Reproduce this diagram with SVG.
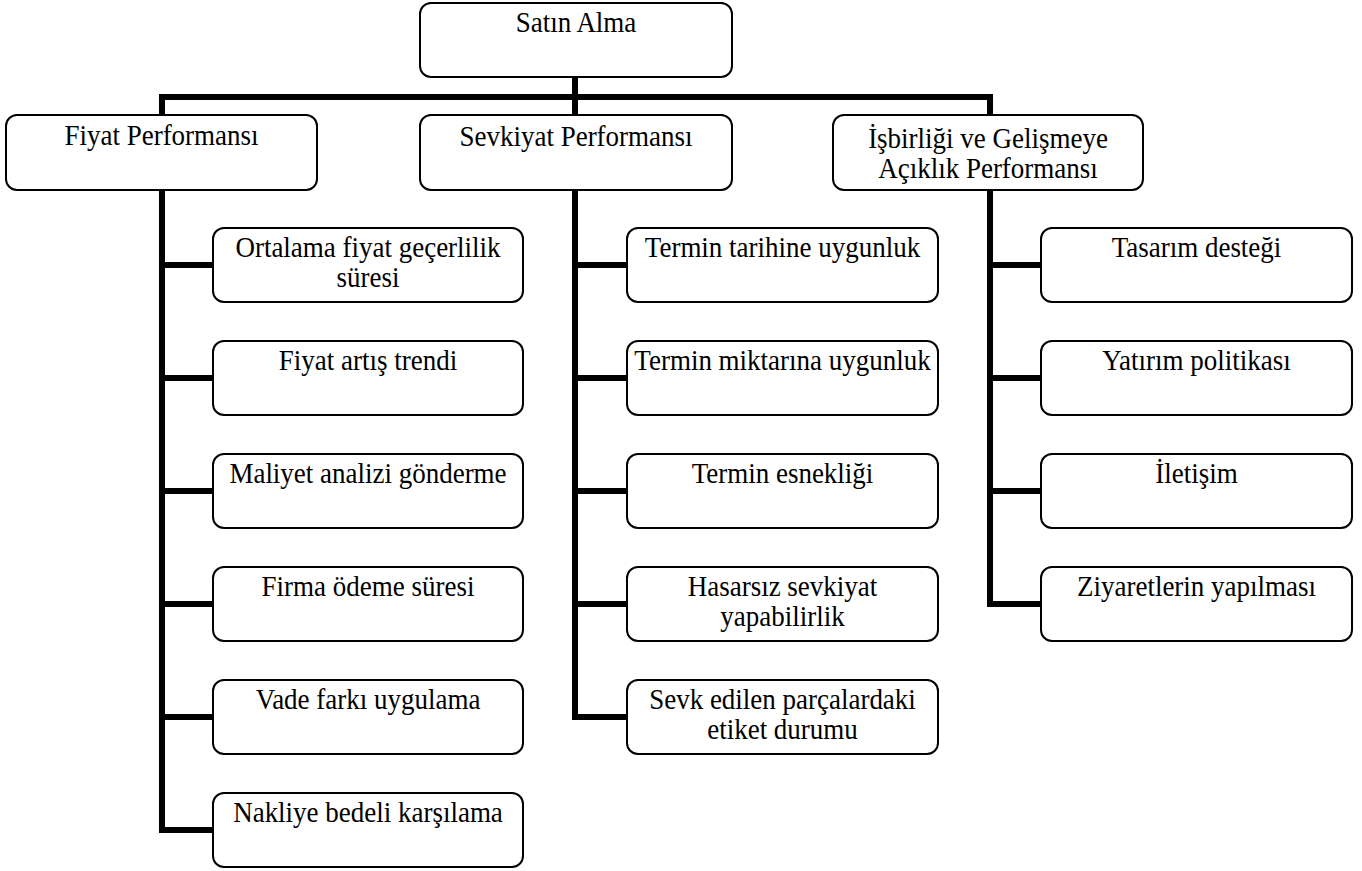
<svg xmlns="http://www.w3.org/2000/svg" width="1362" height="871" viewBox="0 0 1362 871">
  <style>
    .box { fill: #ffffff; stroke: #000000; stroke-width: 2; }
    .wire { fill: none; stroke: #000000; stroke-width: 6; stroke-linejoin: miter; stroke-linecap: butt; }
    .lbl { font-family: "Liberation Serif", "Times New Roman", serif; font-size: 30px; fill: #000000; text-anchor: middle; }
  </style>
  <rect width="1362" height="871" fill="#ffffff"/>

  <!-- connectors -->
  <g id="connectors">
    <!-- root to level-1 bus -->
    <path class="wire" d="M575 77 V97"/>
    <path class="wire" d="M162 115 V97 H990 V115"/>
    <path class="wire" d="M575 97 V115"/>
    <!-- Fiyat column -->
    <path class="wire" d="M162 190 V830 H213"/>
    <path class="wire" d="M162 265 H213 M162 378 H213 M162 491 H213 M162 604 H213 M162 717 H213"/>
    <!-- Sevkiyat column -->
    <path class="wire" d="M575 190 V717 H627"/>
    <path class="wire" d="M575 265 H627 M575 378 H627 M575 491 H627 M575 604 H627"/>
    <!-- İşbirliği column -->
    <path class="wire" d="M990 190 V604 H1041"/>
    <path class="wire" d="M990 265 H1041 M990 378 H1041 M990 491 H1041"/>
  </g>

  <!-- labels use a slightly condensed serif: transform = translate(centre, baseline) scale(0.9,1) -->

  <!-- root -->
  <g id="n-satin-alma">
    <rect class="box" x="420" y="3" width="312" height="74" rx="11"/>
    <text class="lbl" transform="translate(576 32) scale(0.9 1)">Satın Alma</text>
  </g>

  <!-- level 1 -->
  <g id="n-fiyat">
    <rect class="box" x="6" y="115" width="311" height="75" rx="11"/>
    <text class="lbl" transform="translate(161.5 145) scale(0.9 1)">Fiyat Performansı</text>
  </g>
  <g id="n-sevkiyat">
    <rect class="box" x="420" y="115" width="312" height="75" rx="11"/>
    <text class="lbl" transform="translate(576 146) scale(0.9 1)">Sevkiyat Performansı</text>
  </g>
  <g id="n-isbirligi">
    <rect class="box" x="833" y="115" width="310" height="75" rx="11"/>
    <text class="lbl" transform="translate(988 148) scale(0.9 1)">İşbirliği ve Gelişmeye</text>
    <text class="lbl" transform="translate(988 178) scale(0.9 1)">Açıklık Performansı</text>
  </g>

  <!-- Fiyat children -->
  <g id="n-ortalama">
    <rect class="box" x="213" y="228" width="310" height="74" rx="11"/>
    <text class="lbl" transform="translate(368 257) scale(0.9 1)">Ortalama fiyat geçerlilik</text>
    <text class="lbl" transform="translate(368 287) scale(0.9 1)">süresi</text>
  </g>
  <g id="n-fiyat-artis">
    <rect class="box" x="213" y="341" width="310" height="74" rx="11"/>
    <text class="lbl" transform="translate(368 370) scale(0.9 1)">Fiyat artış trendi</text>
  </g>
  <g id="n-maliyet">
    <rect class="box" x="213" y="454" width="310" height="74" rx="11"/>
    <text class="lbl" transform="translate(368 483) scale(0.9 1)">Maliyet analizi gönderme</text>
  </g>
  <g id="n-firma-odeme">
    <rect class="box" x="213" y="567" width="310" height="74" rx="11"/>
    <text class="lbl" transform="translate(368 596) scale(0.9 1)">Firma ödeme süresi</text>
  </g>
  <g id="n-vade">
    <rect class="box" x="213" y="680" width="310" height="74" rx="11"/>
    <text class="lbl" transform="translate(368 709) scale(0.9 1)">Vade farkı uygulama</text>
  </g>
  <g id="n-nakliye">
    <rect class="box" x="213" y="793" width="310" height="74" rx="11"/>
    <text class="lbl" transform="translate(368 822) scale(0.9 1)">Nakliye bedeli karşılama</text>
  </g>

  <!-- Sevkiyat children -->
  <g id="n-termin-tarih">
    <rect class="box" x="627" y="228" width="311" height="74" rx="11"/>
    <text class="lbl" transform="translate(782.5 257) scale(0.9 1)">Termin tarihine uygunluk</text>
  </g>
  <g id="n-termin-miktar">
    <rect class="box" x="627" y="341" width="311" height="74" rx="11"/>
    <text class="lbl" transform="translate(782.5 370) scale(0.9 1)">Termin miktarına uygunluk</text>
  </g>
  <g id="n-termin-esneklik">
    <rect class="box" x="627" y="454" width="311" height="74" rx="11"/>
    <text class="lbl" transform="translate(782.5 483) scale(0.9 1)">Termin esnekliği</text>
  </g>
  <g id="n-hasarsiz">
    <rect class="box" x="627" y="567" width="311" height="74" rx="11"/>
    <text class="lbl" transform="translate(782.5 596) scale(0.9 1)">Hasarsız sevkiyat</text>
    <text class="lbl" transform="translate(782.5 626) scale(0.9 1)">yapabilirlik</text>
  </g>
  <g id="n-etiket">
    <rect class="box" x="627" y="680" width="311" height="74" rx="11"/>
    <text class="lbl" transform="translate(782.5 709) scale(0.9 1)">Sevk edilen parçalardaki</text>
    <text class="lbl" transform="translate(782.5 739) scale(0.9 1)">etiket durumu</text>
  </g>

  <!-- İşbirliği children -->
  <g id="n-tasarim">
    <rect class="box" x="1041" y="228" width="311" height="74" rx="11"/>
    <text class="lbl" transform="translate(1196.5 257) scale(0.9 1)">Tasarım desteği</text>
  </g>
  <g id="n-yatirim">
    <rect class="box" x="1041" y="341" width="311" height="74" rx="11"/>
    <text class="lbl" transform="translate(1196.5 370) scale(0.9 1)">Yatırım politikası</text>
  </g>
  <g id="n-iletisim">
    <rect class="box" x="1041" y="454" width="311" height="74" rx="11"/>
    <text class="lbl" transform="translate(1196.5 483) scale(0.9 1)">İletişim</text>
  </g>
  <g id="n-ziyaret">
    <rect class="box" x="1041" y="567" width="311" height="74" rx="11"/>
    <text class="lbl" transform="translate(1196.5 596) scale(0.9 1)">Ziyaretlerin yapılması</text>
  </g>
</svg>
